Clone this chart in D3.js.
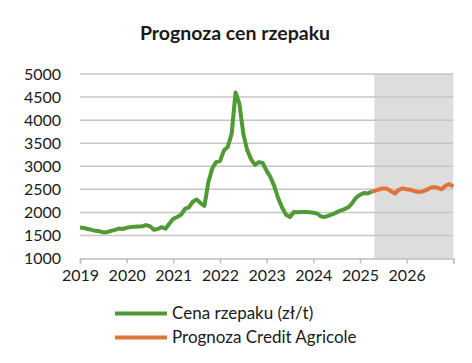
<!DOCTYPE html>
<html>
<head>
<meta charset="utf-8">
<script src="https://cdn.jsdelivr.net/npm/d3@7"></script>
<style>
  html, body { margin: 0; padding: 0; background: #fff; }
  svg text { font-family: Lato, "Open Sans", sans-serif; fill: #1a1a1a; }
</style>
</head>
<body>
<svg id="chart" width="472" height="363"></svg>
<script>
// ─── Data (monthly, index 0 = Jan 2019) ───────────────────────────────────────

const TITLE = "Prognoza cen rzepaku";
const YEAR_LABELS = ["2019", "2020", "2021", "2022", "2023", "2024", "2025", "2026"];
const Y_TICKS = [1000, 1500, 2000, 2500, 3000, 3500, 4000, 4500, 5000];

const PRICE_START = 0;
const PRICE = [
  1670, 1660, 1640, 1620, 1600, 1590, 1565, 1575, 1600, 1620, 1650, 1640,
  1665, 1680, 1690, 1695, 1700, 1725, 1700, 1625, 1640, 1680, 1645, 1760,
  1860, 1900, 1950, 2075, 2110, 2230, 2280, 2200, 2140, 2650, 2950, 3090,
  3110, 3340, 3420, 3700, 4600, 4350, 3700, 3350, 3150, 3030, 3090, 3070,
  2900, 2760, 2560, 2300, 2100, 1950, 1900, 2010, 2005, 2010, 2010, 2005,
  1990, 1975, 1910, 1900, 1930, 1960, 2000, 2040, 2070, 2110, 2200, 2320,
  2380, 2420, 2410, 2450,
];

const FORECAST_START = 75;
const FORECAST = [
  2450, 2470, 2500, 2520, 2510, 2460, 2410, 2490, 2520, 2500, 2490,
  2460, 2440, 2450, 2480, 2530, 2550, 2530, 2500, 2580, 2610, 2560,
];

const SHADE_FROM = 75.7;   // forecast period band
const SHADE_TO = 96;

const LEGEND = [
  { label: "Cena rzepaku (zł/t)",        color: "#509a35" },
  { label: "Prognoza Credit Agricole",   color: "#df7439" },
];

// ─── Scales ───────────────────────────────────────────────────────────────────

const svg = d3.select("#chart");
const x = d3.scaleLinear().domain([0, 96]).range([80, 453.3]);
const y = d3.scaleLinear().domain([1000, 5000]).range([258.5, 74]);

// title
svg.append("text")
  .attr("x", 235).attr("y", 40)
  .attr("text-anchor", "middle")
  .style("font-size", "19.5px").style("font-weight", "700")
  .text(TITLE);

// forecast band
svg.append("rect")
  .attr("x", x(SHADE_FROM)).attr("y", y(5000))
  .attr("width", x(SHADE_TO) - x(SHADE_FROM))
  .attr("height", y(1000) - y(5000))
  .attr("fill", "#dddddd");

// gridlines
svg.append("g").selectAll("line")
  .data(Y_TICKS.filter(d => d > 1000))
  .join("line")
  .attr("x1", x(0)).attr("x2", x(96))
  .attr("y1", d => y(d)).attr("y2", d => y(d))
  .attr("stroke", "#c6c6c6").attr("stroke-width", 1.5);

// y axis labels
const yAxis = svg.append("g")
  .attr("transform", `translate(${x(0) - 19},0)`)
  .call(d3.axisLeft(y).tickValues(Y_TICKS).tickSize(0).tickPadding(0).tickFormat(d3.format("d")));
yAxis.select(".domain").remove();
yAxis.selectAll("text").style("font-size", "16px").attr("fill", "#1a1a1a");

// x axis
const xAxis = svg.append("g")
  .attr("transform", `translate(0,${y(1000)})`)
  .call(d3.axisBottom(x).tickValues(d3.range(0, 97, 12)).tickSize(5).tickPadding(6)
    .tickFormat((d, i) => YEAR_LABELS[i] || ""));
xAxis.select(".domain").attr("stroke", "#bdbdbd").attr("stroke-width", 1.5);
xAxis.selectAll(".tick line").attr("stroke", "#bdbdbd").attr("stroke-width", 1.5);
xAxis.selectAll("text").style("font-size", "16px").attr("fill", "#1a1a1a");

// lines
const line = d3.line().x(d => x(d[0])).y(d => y(d[1]));
const priceData = PRICE.map((v, i) => [PRICE_START + i, v]);
const forecastData = FORECAST.map((v, i) => [FORECAST_START + i, v]);

svg.append("path").datum(priceData)
  .attr("d", line).attr("fill", "none")
  .attr("stroke", LEGEND[0].color).attr("stroke-width", 4)
  .attr("stroke-linejoin", "round");

svg.append("path").datum(forecastData)
  .attr("d", line).attr("fill", "none")
  .attr("stroke", LEGEND[1].color).attr("stroke-width", 4)
  .attr("stroke-linejoin", "round");

// legend
const leg = svg.append("g").selectAll("g")
  .data(LEGEND).join("g")
  .attr("transform", (d, i) => `translate(115,${313.5 + i * 24})`);
leg.append("line")
  .attr("x1", 0).attr("x2", 52)
  .attr("stroke", d => d.color).attr("stroke-width", 4);
leg.append("text")
  .attr("x", 57).attr("dy", "0.35em")
  .style("font-size", "17px")
  .text(d => d.label);
</script>
</body>
</html>
